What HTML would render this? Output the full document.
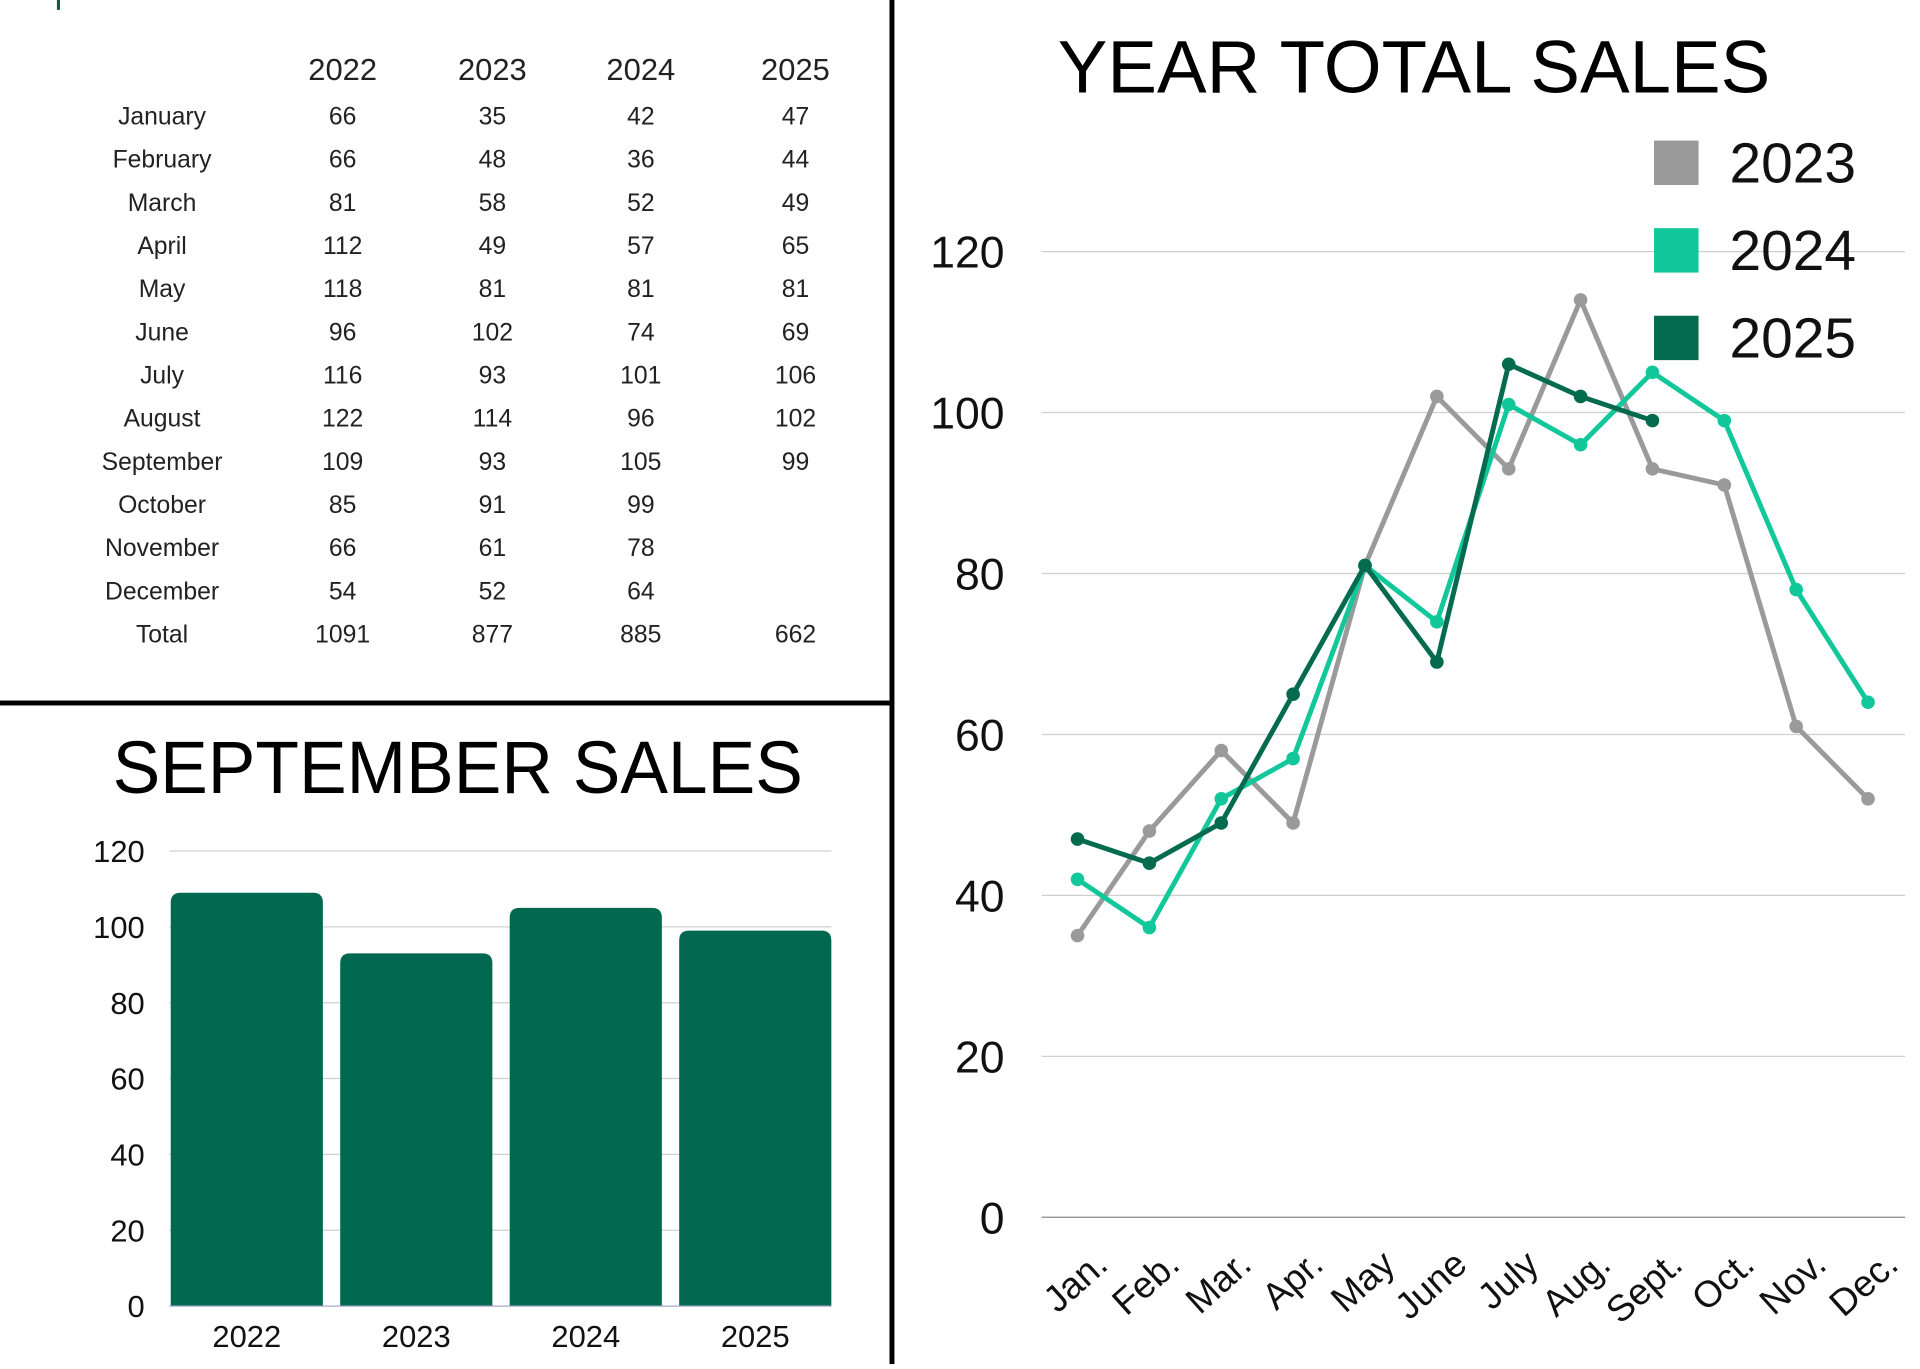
<!DOCTYPE html>
<html><head><meta charset="utf-8"><style>
html,body{margin:0;padding:0;background:#fff;}
svg{display:block;font-family:"Liberation Sans",sans-serif;}
</style></head><body>
<svg id="s" width="1920" height="1369" viewBox="0 0 1552 1110" preserveAspectRatio="none">
<rect x="0" y="0" width="1552" height="1110" fill="#fff"/>
<rect x="46" y="0" width="2.5" height="8" fill="#0a5e46"/>
<rect x="719" y="0" width="4" height="1106" fill="#000"/>
<rect x="0" y="568" width="720" height="4" fill="#000"/>
<g id="table"></g>
<text x="370" y="643" font-size="60" text-anchor="middle" fill="#000" textLength="558" lengthAdjust="spacingAndGlyphs">SEPTEMBER SALES</text>
<g id="bar"></g>
<text x="1143" y="75" font-size="60" text-anchor="middle" fill="#000" textLength="576" lengthAdjust="spacingAndGlyphs">YEAR TOTAL SALES</text>
<g id="line"></g>
<g id="legend"></g>
</svg>
<script>
const months=["January","February","March","April","May","June","July","August","September","October","November","December"];
const years=["2022","2023","2024","2025"];
const v2022=[66,66,81,112,118,96,116,122,109,85,66,54];
const v2023=[35,48,58,49,81,102,93,114,93,91,61,52];
const v2024=[42,36,52,57,81,74,101,96,105,99,78,64];
const v2025=[47,44,49,65,81,69,106,102,99];
const septYears=["2022","2023","2024","2025"];
const septValues=[109,93,105,99];
const barTicks=[0,20,40,60,80,100,120];
const lineTicks=[0,20,40,60,80,100,120];
const monthAbbr=["Jan.","Feb.","Mar.","Apr.","May","June","July","Aug.","Sept.","Oct.","Nov.","Dec."];
const lineYears=["2023","2024","2025"];

const NS="http://www.w3.org/2000/svg";
function mk(tag,attrs,parent,txt){const e=document.createElementNS(NS,tag);for(const k in attrs)e.setAttribute(k,attrs[k]);if(txt!==undefined)e.textContent=txt;parent.appendChild(e);return e;}

// table
const T=document.getElementById('table');
const colX=[277,398,518,643];
const allVals=[v2022,v2023,v2024,v2025];
years.forEach((y,i)=>{const t=mk('text',{x:colX[i],y:65,'font-size':25,'text-anchor':'middle',fill:'#222'},T,y);

});
months.forEach((m,r)=>{const yy=101+r*35;
 const t=mk('text',{x:131,y:yy,'font-size':20,'text-anchor':'middle',fill:'#222'},T,m);
 
 
 allVals.forEach((arr,c)=>{if(arr[r]!==undefined){const c2=mk('text',{x:colX[c],y:yy,'font-size':20,'text-anchor':'middle',fill:'#222'},T,arr[r]);
 
 }});
});
const tot=mk('text',{x:131,y:521,'font-size':20,'text-anchor':'middle',fill:'#222'},T,'Total');


allVals.forEach((arr,c)=>{const s=arr.reduce((a,b)=>a+b,0);const t=mk('text',{x:colX[c],y:521,'font-size':20,'text-anchor':'middle',fill:'#222'},T,s);

});

// bar chart
const B=document.getElementById('bar');
const by=v=>1059-(v/120)*369;
barTicks.forEach(t=>{if(t>0){const l=mk('line',{x1:137,x2:672,y1:by(t),y2:by(t),stroke:'#d0d0d0','stroke-width':1},B);

}
const tx=mk('text',{x:117,y:by(t)+9,'font-size':25,'text-anchor':'end',fill:'#111'},B,t);

});
const bw=123,step=137;
septValues.forEach((v,i)=>{const x=138+i*step,top=by(v),h=1059-top,r=8;
 const p=mk('path',{d:`M${x},1059 V${top+r} Q${x},${top} ${x+r},${top} H${x+bw-r} Q${x+bw},${top} ${x+bw},${top+r} V1059 Z`,fill:'#02684f'},B);
 
 
 const t=mk('text',{x:x+bw/2,y:1092,'font-size':25,'text-anchor':'middle',fill:'#111'},B,septYears[i]);
 
 
});
const bl=mk('line',{x1:137,x2:672,y1:1059,y2:1059,stroke:'#aac',"stroke-width":1},B);



// line chart
const L=document.getElementById('line');
const ly=v=>987-(v/120)*783;
const lx=i=>871+i*(1510-871)/11;
lineTicks.forEach(t=>{const l=mk('line',{x1:842,x2:1540,y1:ly(t),y2:ly(t),stroke:t===0?'#888':'#cfcfcf','stroke-width':1},L);


const tx=mk('text',{x:812,y:ly(t)+13,'font-size':36,'text-anchor':'end',fill:'#111'},L,t);

});
monthAbbr.forEach((m,i)=>{const x=lx(i)+12,y=1012;
 const t=mk('text',{x:x,y:y,'font-size':30,'text-anchor':'end',fill:'#111',transform:`rotate(-42 ${x} ${y})`,dy:'0.7em'},L,m);
 
 });
const series=[[v2023,'#9a9a9a'],[v2024,'#12c89b'],[v2025,'#046b4f']];
series.forEach(([arr,col],si)=>{
 const pts=arr.map((v,i)=>lx(i)+','+ly(v)).join(' ');
 const pl=mk('polyline',{points:pts,fill:'none',stroke:col,'stroke-width':4,'stroke-linejoin':'round'},L);
 
 
 arr.forEach((v,i)=>{const c=mk('circle',{cx:lx(i),cy:ly(v),r:5.5,fill:col},L);
 
 });
});
const G=document.getElementById('legend');
series.forEach(([arr,col],i)=>{const y=114+i*71;
 const r=mk('rect',{x:1337,y:y,width:36,height:36,fill:col},G);
 
 
 const t=mk('text',{x:1398,y:y+34,'font-size':46,fill:'#111'},G,lineYears[i]);
 
 });
</script>
</body></html>
